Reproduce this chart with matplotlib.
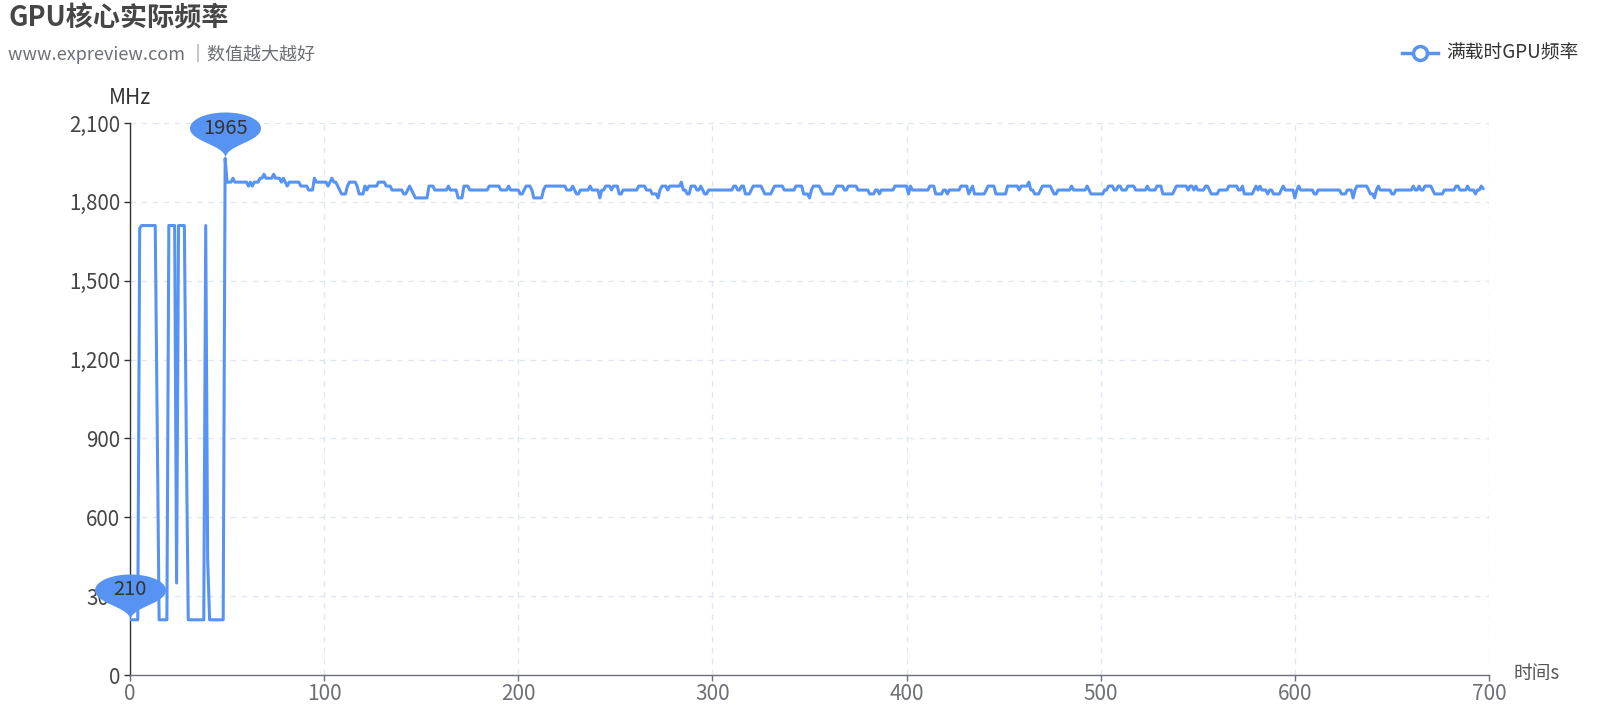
import numpy as np
import matplotlib
matplotlib.use("Agg")
import matplotlib.pyplot as plt
from matplotlib.path import Path
from matplotlib.lines import Line2D
from matplotlib.ticker import FuncFormatter

plt.rcParams['font.family'] = ['Noto Sans CJK SC', 'DejaVu Sans']

# ---------------- data ----------------
title = "GPU核心实际频率"
subtitle = "www.expreview.com ｜数值越大越好"
series_name = "满载时GPU频率"
y_name = "MHz"
x_name = "时间s"

freq_0_49 = [
    210, 210, 210, 210, 210, 1700, 1710, 1710, 1710, 1710,
    1710, 1710, 1710, 1710, 960, 210, 210, 210, 210, 210,
    1710, 1710, 1710, 1710, 350, 1710, 1710, 1710, 1710, 900,
    210, 210, 210, 210, 210, 210, 210, 210, 210, 1710,
    440, 210, 210, 210, 210, 210, 210, 210, 210, 1965,
]
freq_50_249 = [
    1875, 1875, 1875, 1890, 1875, 1875, 1875, 1875, 1875, 1875,
    1875, 1860, 1875, 1860, 1875, 1875, 1875, 1890, 1890, 1905,
    1890, 1890, 1890, 1890, 1905, 1890, 1890, 1890, 1875, 1890,
    1875, 1860, 1875, 1875, 1875, 1875, 1875, 1875, 1860, 1860,
    1860, 1860, 1845, 1845, 1845, 1890, 1875, 1875, 1875, 1875,
    1875, 1875, 1860, 1875, 1890, 1875, 1875, 1860, 1845, 1830,
    1830, 1830, 1860, 1875, 1875, 1875, 1875, 1860, 1830, 1830,
    1830, 1860, 1845, 1860, 1860, 1860, 1860, 1860, 1875, 1875,
    1875, 1875, 1860, 1860, 1860, 1845, 1845, 1845, 1845, 1845,
    1845, 1830, 1830, 1845, 1860, 1845, 1830, 1815, 1815, 1815,
    1815, 1815, 1815, 1815, 1860, 1860, 1860, 1845, 1845, 1845,
    1845, 1845, 1845, 1845, 1860, 1845, 1845, 1845, 1845, 1815,
    1815, 1815, 1860, 1860, 1860, 1845, 1845, 1845, 1845, 1845,
    1845, 1845, 1845, 1845, 1845, 1860, 1860, 1860, 1860, 1860,
    1860, 1845, 1845, 1845, 1845, 1860, 1845, 1845, 1845, 1845,
    1845, 1830, 1830, 1845, 1860, 1860, 1860, 1845, 1815, 1815,
    1815, 1815, 1815, 1845, 1860, 1860, 1860, 1860, 1860, 1860,
    1860, 1860, 1860, 1860, 1860, 1845, 1845, 1845, 1860, 1845,
    1830, 1830, 1845, 1845, 1845, 1845, 1845, 1860, 1845, 1845,
    1845, 1845, 1815, 1845, 1845, 1860, 1860, 1860, 1845, 1860,
]
freq_250_449 = [
    1860, 1860, 1830, 1830, 1845, 1845, 1845, 1845, 1845, 1845,
    1845, 1845, 1860, 1860, 1860, 1860, 1845, 1845, 1845, 1830,
    1830, 1830, 1815, 1845, 1860, 1860, 1860, 1845, 1860, 1860,
    1860, 1860, 1860, 1860, 1875, 1845, 1845, 1830, 1830, 1860,
    1860, 1860, 1845, 1845, 1860, 1845, 1830, 1830, 1845, 1845,
    1845, 1845, 1845, 1845, 1845, 1845, 1845, 1845, 1845, 1845,
    1845, 1860, 1860, 1845, 1845, 1860, 1860, 1830, 1830, 1830,
    1845, 1860, 1860, 1860, 1860, 1860, 1845, 1830, 1830, 1830,
    1830, 1845, 1860, 1860, 1860, 1860, 1860, 1845, 1845, 1845,
    1845, 1845, 1845, 1860, 1860, 1860, 1860, 1830, 1830, 1830,
    1815, 1845, 1860, 1860, 1860, 1860, 1845, 1830, 1830, 1830,
    1830, 1830, 1830, 1845, 1860, 1860, 1860, 1860, 1845, 1845,
    1860, 1860, 1860, 1860, 1860, 1845, 1845, 1845, 1845, 1845,
    1845, 1830, 1830, 1830, 1845, 1845, 1830, 1845, 1845, 1845,
    1845, 1845, 1845, 1845, 1860, 1860, 1860, 1860, 1860, 1860,
    1860, 1830, 1860, 1845, 1845, 1845, 1845, 1845, 1845, 1845,
    1845, 1845, 1860, 1860, 1860, 1830, 1830, 1830, 1830, 1845,
    1845, 1830, 1845, 1845, 1845, 1845, 1845, 1845, 1860, 1860,
    1860, 1860, 1830, 1845, 1860, 1830, 1830, 1830, 1830, 1830,
    1830, 1845, 1860, 1860, 1860, 1860, 1830, 1830, 1830, 1830,
]
freq_450_697 = [
    1830, 1830, 1860, 1860, 1860, 1860, 1860, 1860, 1845, 1860,
    1860, 1860, 1860, 1875, 1845, 1845, 1830, 1830, 1830, 1845,
    1860, 1860, 1860, 1860, 1860, 1845, 1830, 1830, 1845, 1845,
    1845, 1845, 1845, 1845, 1845, 1860, 1845, 1845, 1845, 1845,
    1845, 1845, 1845, 1860, 1845, 1830, 1830, 1830, 1830, 1830,
    1830, 1830, 1845, 1845, 1860, 1860, 1860, 1845, 1845, 1860,
    1860, 1845, 1845, 1845, 1860, 1860, 1860, 1860, 1845, 1845,
    1845, 1845, 1845, 1845, 1860, 1845, 1845, 1845, 1845, 1860,
    1860, 1860, 1830, 1830, 1830, 1830, 1830, 1830, 1845, 1860,
    1860, 1860, 1860, 1860, 1860, 1845, 1860, 1860, 1845, 1860,
    1845, 1845, 1845, 1845, 1860, 1860, 1845, 1830, 1830, 1830,
    1830, 1845, 1845, 1845, 1845, 1845, 1860, 1860, 1860, 1860,
    1860, 1845, 1845, 1860, 1830, 1830, 1830, 1830, 1830, 1845,
    1860, 1845, 1860, 1845, 1845, 1845, 1830, 1845, 1845, 1830,
    1830, 1830, 1830, 1845, 1860, 1845, 1845, 1845, 1845, 1845,
    1815, 1845, 1860, 1845, 1845, 1845, 1845, 1845, 1845, 1845,
    1830, 1830, 1845, 1845, 1845, 1845, 1845, 1845, 1845, 1845,
    1845, 1845, 1845, 1845, 1830, 1830, 1830, 1845, 1845, 1845,
    1815, 1845, 1860, 1860, 1860, 1860, 1860, 1860, 1845, 1830,
    1830, 1815, 1845, 1860, 1845, 1845, 1845, 1845, 1845, 1845,
    1830, 1830, 1845, 1845, 1845, 1845, 1845, 1845, 1845, 1845,
    1845, 1860, 1845, 1845, 1860, 1845, 1845, 1860, 1860, 1860,
    1860, 1845, 1830, 1830, 1830, 1830, 1830, 1845, 1845, 1845,
    1845, 1845, 1845, 1860, 1860, 1845, 1845, 1845, 1845, 1860,
    1845, 1845, 1845, 1830, 1845, 1845, 1860, 1850,
]
freq = freq_0_49 + freq_50_249 + freq_250_449 + freq_450_697
times = list(range(len(freq)))

x_ticks = [0, 100, 200, 300, 400, 500, 600, 700]
y_ticks = [0, 300, 600, 900, 1200, 1500, 1800, 2100]

# ---------------- style ----------------
W, H, DPI = 1620, 720, 100
BLUE = "#5793f3"
GRID = "#E0E6F1"

fig = plt.figure(figsize=(W / DPI, H / DPI), dpi=DPI)
fig.patch.set_facecolor("white")

L, R, T, B = 130, 1489, 123, 675
ax = fig.add_axes([L / W, 1 - B / H, (R - L) / W, (B - T) / H])

ax.plot(times, freq, color=BLUE, linewidth=2.2, solid_joinstyle="round",
        solid_capstyle="round", zorder=3)

ax.set_xlim(x_ticks[0], x_ticks[-1])
ax.set_ylim(y_ticks[0], y_ticks[-1])
ax.set_xticks(x_ticks)
ax.set_yticks(y_ticks)
ax.yaxis.set_major_formatter(FuncFormatter(lambda v, p: f"{v:,.0f}"))

ax.grid(True, color=GRID, linestyle=(0, (4, 4)), linewidth=1.0)
ax.set_axisbelow(True)
for s in ("top", "right"):
    ax.spines[s].set_visible(False)
ax.spines["left"].set_color("#333333")
ax.spines["left"].set_linewidth(1.0)
ax.spines["bottom"].set_color("#6E7079")
ax.spines["bottom"].set_linewidth(1.0)

ax.tick_params(axis="y", length=4, width=1, color="#333333", labelcolor="#444444",
               labelsize=14.8, pad=3)
ax.tick_params(axis="x", length=4, width=1, color="#6E7079", labelcolor="#6E7079",
               labelsize=15, pad=2)


# ----- pin marker (ECharts-like 'pin' symbol), tip at the data point -----
def pin_marker(width_px, height_px):
    w, h = 30.0, 50.0
    r = w / 2
    dy = r * r / (h - r)
    cy = -h + r + dy
    ang = np.arcsin(dy / r)
    dx = np.cos(ang) * r
    tx, ty = np.sin(ang), np.cos(ang)
    cp1, cp2 = r * 0.6, r * 0.7
    th = np.linspace(np.pi - ang, 2 * np.pi + ang, 90)
    arc = np.c_[r * np.cos(th), cy + r * np.sin(th)]

    def bez(p0, p1, p2, p3, n=30):
        s = np.linspace(0, 1, n)[:, None]
        return ((1 - s) ** 3 * p0 + 3 * (1 - s) ** 2 * s * p1
                + 3 * (1 - s) * s ** 2 * p2 + s ** 3 * p3)

    b1 = bez(np.array([dx, cy + dy]), np.array([dx - tx * cp1, cy + dy + ty * cp1]),
             np.array([0.0, -cp2]), np.array([0.0, 0.0]))
    b2 = bez(np.array([0.0, 0.0]), np.array([0.0, -cp2]),
             np.array([-dx + tx * cp1, cy + dy + ty * cp1]), np.array([-dx, cy + dy]))
    pts = np.vstack([arc, b1[1:], b2[1:]])
    pts[:, 1] *= -1
    top = pts[:, 1].max()
    pts[:, 0] *= width_px / (2 * r)
    pts[:, 1] *= height_px / top
    head_c = -cy * height_px / top
    pts = np.vstack([pts, pts[:1]])
    ms = 2 * np.abs(pts).max() * 72 / DPI
    return Path(pts, closed=True), ms, head_c


pin, pin_ms, head_c = pin_marker(71, 46)

i_max = int(np.argmax(freq))
i_min = int(np.argmin(freq))
for i in (i_max, i_min):
    ax.plot([times[i]], [freq[i]], marker=pin, markersize=pin_ms, color=BLUE,
            markeredgewidth=0, linestyle="none", clip_on=False, zorder=4)
    ax.annotate(f"{freq[i]}", (times[i], freq[i]), xytext=(0, head_c * 72 / DPI),
                textcoords="offset points", ha="center", va="center",
                fontsize=14.5, color="#333333", zorder=5, annotation_clip=False)

# ----- axis names -----
fig.text(L / W, 1 - 98 / H, y_name, ha="center", va="center", fontsize=15,
         color="#333333")
fig.text(1513 / W, 1 - 674 / H, x_name, ha="left", va="center", fontsize=13.5,
         color="#555555")

# ----- title & subtitle -----
fig.text(8 / W, 1 - 18 / H, title, ha="left", va="center", fontsize=19.5,
         fontweight="bold", color="#464646")
fig.text(8 / W, 1 - 54 / H, subtitle, ha="left", va="center", fontsize=13,
         color="#6E7079")

# ----- legend -----
ly = 1 - 53 / H
fig.add_artist(Line2D([1402 / W, 1438 / W], [ly, ly], transform=fig.transFigure,
                      color=BLUE, linewidth=2.5))
fig.add_artist(Line2D([1420 / W], [ly], transform=fig.transFigure, marker="o",
                      markersize=10, markerfacecolor="white", markeredgecolor=BLUE,
                      markeredgewidth=2.5, linestyle="none"))
fig.text(1446 / W, ly, series_name, ha="left", va="center", fontsize=13.5,
         color="#333333")

fig.savefig("out.png", dpi=DPI, facecolor="white")
